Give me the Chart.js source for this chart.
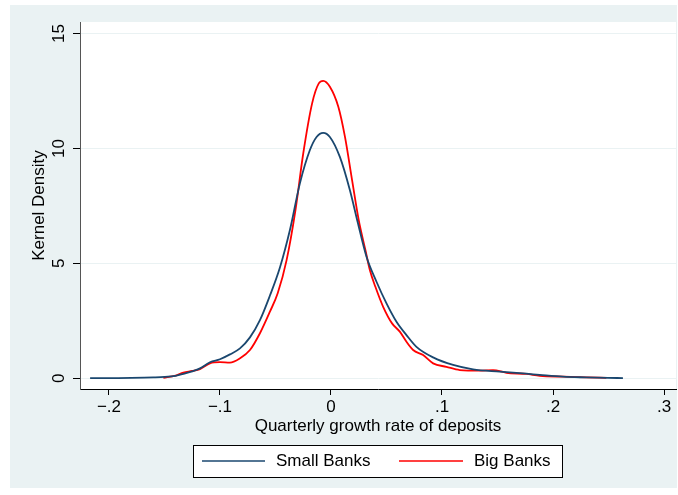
<!DOCTYPE html>
<html>
<head>
<meta charset="utf-8">
<script src="https://cdn.jsdelivr.net/npm/chart.js@4/dist/chart.umd.min.js"></script>
<style>
  html, body { margin: 0; padding: 0; background: #fff; }
  #chart { display: block; }
</style>
</head>
<body>
<canvas id="chart" width="678" height="495"></canvas>
<script>
// kernel density estimates
const smallX = [-0.217, -0.20, -0.18, -0.16, -0.15, -0.14, -0.133, -0.125, -0.118, -0.109, -0.100, -0.091, -0.082, -0.073, -0.064, -0.055, -0.046, -0.037, -0.028, -0.019, -0.013, -0.007, -0.001, 0.008, 0.017, 0.024, 0.032, 0.041, 0.050, 0.059, 0.068, 0.077, 0.092, 0.110, 0.128, 0.152, 0.176, 0.188, 0.209, 0.230, 0.250, 0.263];
const smallY = [0.01, 0.01, 0.02, 0.04, 0.06, 0.11, 0.19, 0.30, 0.43, 0.70, 0.83, 1.04, 1.30, 1.78, 2.53, 3.60, 4.82, 6.45, 8.48, 9.93, 10.50, 10.68, 10.50, 9.63, 8.19, 6.80, 5.29, 4.20, 3.26, 2.46, 1.88, 1.37, 0.91, 0.58, 0.39, 0.29, 0.20, 0.15, 0.07, 0.04, 0.02, 0.01];

const bigX = [-0.151, -0.14, -0.133, -0.125, -0.118, -0.109, -0.100, -0.091, -0.082, -0.073, -0.064, -0.055, -0.048, -0.040, -0.032, -0.025, -0.017, -0.011, -0.007, -0.001, 0.0066, 0.0126, 0.019, 0.025, 0.031, 0.035, 0.040, 0.047, 0.055, 0.062, 0.068, 0.074, 0.083, 0.092, 0.104, 0.116, 0.134, 0.146, 0.158, 0.176, 0.188, 0.209, 0.230, 0.248];
const bigY = [0.02, 0.12, 0.25, 0.32, 0.40, 0.65, 0.70, 0.68, 0.87, 1.23, 1.96, 2.90, 3.70, 5.14, 7.32, 9.78, 11.96, 12.83, 12.94, 12.68, 11.81, 10.50, 8.62, 6.88, 5.58, 4.71, 3.98, 3.11, 2.39, 2.03, 1.59, 1.23, 1.01, 0.65, 0.50, 0.36, 0.33, 0.36, 0.24, 0.19, 0.11, 0.07, 0.04, 0.02];

const seriesNames = ["Small Banks", "Big Banks"];
const seriesColors = ["#1a476f", "#ff0000"];

const xTicks = [-0.2, -0.1, 0, 0.1, 0.2, 0.3];
const xTickLabels = ["\u2212.2", "\u2212.1", "0", ".1", ".2", ".3"];
const yTicks = [0, 5, 10, 15];
const yTickLabels = ["0", "5", "10", "15"];

const xTitle = "Quarterly growth rate of deposits";
const yTitle = "Kernel Density";

const FONT = "'Liberation Sans', Arial, Helvetica, sans-serif";
const BG = "#eaf2f3";

function pairs(xs, ys) {
    return xs.map(function (x, i) { return { x: x, y: ys[i] }; });
}

const frame = {
    id: "frame",
    beforeDraw: function (chart) {
        const ctx = chart.ctx;
        const a = chart.chartArea;
        ctx.save();
        ctx.fillStyle = "#fff";
        ctx.fillRect(0, 0, chart.width, chart.height);
        ctx.fillStyle = BG;
        ctx.fillRect(10, 5, 667, 483);
        ctx.fillStyle = "#fff";
        ctx.fillRect(a.left, a.top, a.right - a.left, a.bottom - a.top);
        ctx.restore();
    },
    afterDraw: function (chart) {
        const ctx = chart.ctx;
        const a = chart.chartArea;
        const yScale = chart.scales.y;
        ctx.save();
        ctx.fillStyle = "#000";
        ctx.font = "17px " + FONT;
        ctx.textAlign = "center";
        ctx.textBaseline = "middle";

        // rotated y tick labels
        yTicks.forEach(function (v, i) {
            ctx.save();
            ctx.translate(59, yScale.getPixelForValue(v));
            ctx.rotate(-Math.PI / 2);
            ctx.fillText(yTickLabels[i], 0, 0);
            ctx.restore();
        });

        // y title
        ctx.save();
        ctx.translate(39, (a.top + a.bottom) / 2);
        ctx.rotate(-Math.PI / 2);
        ctx.fillText(yTitle, 0, 0);
        ctx.restore();

        // x title
        ctx.fillText(xTitle, (a.left + a.right) / 2, 426);

        // legend box
        ctx.fillStyle = "#fff";
        ctx.fillRect(193.5, 445.5, 369, 32);
        ctx.strokeStyle = "#000";
        ctx.lineWidth = 1;
        ctx.strokeRect(193.5, 445.5, 369, 32);

        const ly = 461;
        const keys = [{ x0: 202, x1: 265, tx: 276 }, { x0: 399, x1: 463, tx: 474 }];
        keys.forEach(function (k, i) {
            ctx.strokeStyle = seriesColors[i];
            ctx.lineWidth = 1.6;
            ctx.beginPath();
            ctx.moveTo(k.x0, ly);
            ctx.lineTo(k.x1, ly);
            ctx.stroke();
            ctx.fillStyle = "#000";
            ctx.textAlign = "left";
            ctx.fillText(seriesNames[i], k.tx, ly);
        });
        ctx.restore();
    }
};

new Chart(document.getElementById("chart"), {
    type: "scatter",
    data: {
        datasets: [
            {
                label: seriesNames[0],
                data: pairs(smallX, smallY),
                showLine: true,
                borderColor: seriesColors[0],
                borderWidth: 1.8,
                pointRadius: 0,
                cubicInterpolationMode: "monotone"
            },
            {
                label: seriesNames[1],
                data: pairs(bigX, bigY),
                showLine: true,
                borderColor: seriesColors[1],
                borderWidth: 1.8,
                pointRadius: 0,
                cubicInterpolationMode: "monotone"
            }
        ]
    },
    options: {
        responsive: false,
        animation: false,
        devicePixelRatio: 1,
        layout: { padding: { top: 22, right: 2, left: 0, bottom: 0 } },
        plugins: {
            legend: { display: false },
            tooltip: { enabled: false }
        },
        scales: {
            x: {
                type: "linear",
                min: -0.2261,
                max: 0.3108,
                afterBuildTicks: function (scale) {
                    scale.ticks = xTicks.map(function (v) { return { value: v }; });
                },
                afterFit: function (scale) { scale.height = 106; },
                ticks: {
                    maxRotation: 0,
                    minRotation: 0,
                    padding: 2,
                    color: "#000",
                    font: { family: FONT, size: 17 },
                    callback: function (value, index) { return xTickLabels[index]; }
                },
                grid: {
                    drawOnChartArea: false,
                    drawTicks: true,
                    tickLength: 6,
                    tickColor: "#000"
                },
                border: { display: true, color: "#000", width: 1 }
            },
            y: {
                type: "linear",
                min: -0.465,
                max: 15.5,
                afterBuildTicks: function (scale) {
                    scale.ticks = yTicks.map(function (v) { return { value: v }; });
                },
                afterFit: function (scale) { scale.width = 80; },
                ticks: { display: false },
                grid: {
                    color: BG,
                    lineWidth: 1,
                    drawTicks: true,
                    tickLength: 7,
                    tickColor: "#000"
                },
                border: { display: true, color: "#555", width: 1 }
            }
        }
    },
    plugins: [frame]
});
</script>
</body>
</html>
